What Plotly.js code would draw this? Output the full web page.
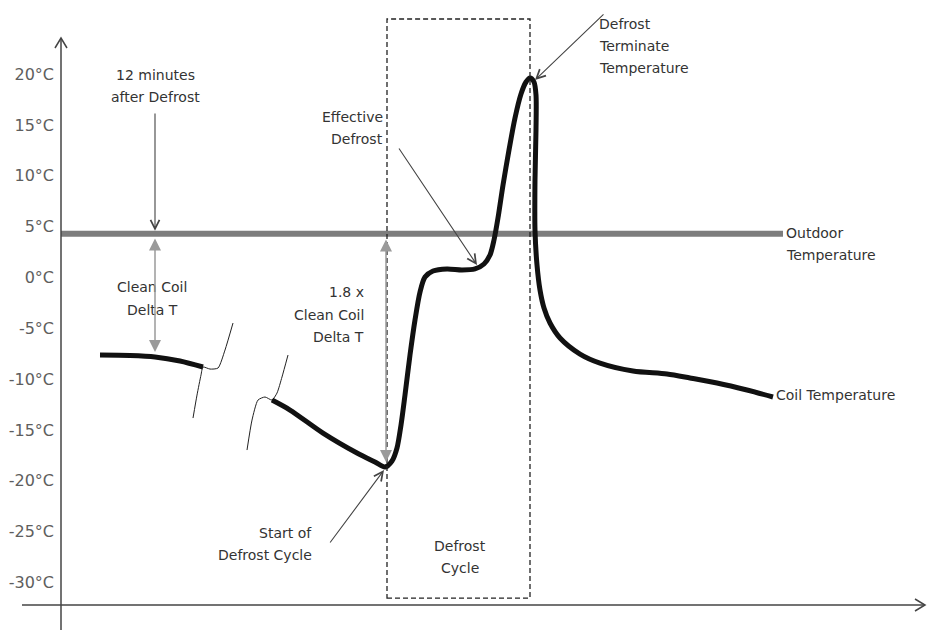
<!DOCTYPE html>
<html>
<head>
<meta charset="utf-8">
<script src="https://cdn.plot.ly/plotly-3.0.1.min.js"></script>
<style>html,body{margin:0;padding:0;background:#fff;}#chart{width:933px;height:630px;}</style>
</head>
<body>
<div id="chart"></div>
<script>
// ---- data (time in arbitrary units, temperature in °C) ----
const coilTimeA = [3.9, 6.9, 9.4, 11.9, 14.2];
const coilTempA = [-7.63, -7.68, -7.82, -8.22, -8.81];

const coilTimeB = [21.1, 22.9, 26.2, 29.6, 31.4, 32.4, 33.1, 33.6, 34.0, 34.4, 34.9, 35.4, 35.9, 36.4, 37.2, 38.6, 40.1, 41.4, 42.3, 42.9, 43.3, 43.7, 44.2, 44.8, 45.4, 46.0, 46.5, 46.9, 47.3, 47.5, 47.5, 47.4, 47.4, 47.6, 47.9, 48.3, 48.9, 49.9, 51.9, 53.9, 57.2, 60.6, 62.9, 65.6, 68.6, 71.2];
const coilTempB = [-12.06, -13.04, -15.31, -17.27, -18.16, -18.65, -18.06, -16.78, -14.52, -11.56, -7.63, -4.18, -1.43, 0.05, 0.64, 0.84, 0.74, 0.84, 1.33, 2.21, 3.69, 5.86, 9.10, 12.55, 15.70, 18.06, 19.24, 19.64, 19.24, 17.96, 14.52, 9.60, 4.68, 1.23, -1.23, -3.0, -4.48, -5.95, -7.53, -8.42, -9.20, -9.50, -9.89, -10.38, -11.07, -11.76];

const breakTimeA = [13.2, 13.6, 14.0, 14.2, 14.9, 15.7, 16.4, 17.2];
const breakTempA = [-13.83, -11.57, -9.60, -8.81, -9.01, -8.91, -7.14, -4.48];
const breakTimeB = [18.6, 19.1, 19.7, 20.4, 21.1, 21.6, 22.1, 22.7];
const breakTempB = [-16.98, -14.03, -12.06, -11.76, -12.06, -11.37, -9.79, -7.63];

const outdoorTime = [0, 72.2];
const outdoorTemp = [4.3, 4.3];

const defrostStart = 32.6, defrostEnd = 46.9;
const tickVals = [-30, -25, -20, -15, -10, -5, 0, 5, 10, 15, 20];
const tickText = tickVals.map(v => v + '°C');

// ---- layout helpers ----
const FONT = 'DejaVu Sans, Verdana, sans-serif';
const txtColor = '#333';
function label(text, x, y, anchor) {
  return {text: text, x: x, y: y, xref: 'x', yref: 'y', showarrow: false,
          xanchor: anchor, yanchor: 'middle', font: {family: FONT, size: 14, color: txtColor}};
}
function blackArrow(x, y, ax, ay) {
  return {text: '', x: x, y: y, ax: ax, ay: ay, xref: 'x', yref: 'y', axref: 'x', ayref: 'y',
          showarrow: true, arrowhead: 5, arrowsize: 1.6, arrowwidth: 1.1, arrowcolor: '#444', standoff: 0};
}
function grayDouble(x, yTop, yBot) {
  return {text: '', x: x, y: yBot, ax: x, ay: yTop, xref: 'x', yref: 'y', axref: 'x', ayref: 'y',
          showarrow: true, arrowside: 'end+start', arrowhead: 2, startarrowhead: 2,
          arrowsize: 1.6, startarrowsize: 1.6, arrowwidth: 1.5, arrowcolor: '#9a9a9a', standoff: 0, startstandoff: 0};
}

const thick = {color: '#111', width: 5, shape: 'spline', smoothing: 0.8};
const thin = {color: '#222', width: 1, shape: 'spline', smoothing: 0.6};

const traces = [
  {x: outdoorTime, y: outdoorTemp, mode: 'lines', line: {color: '#7d7d7d', width: 6}, hoverinfo: 'skip'},
  {x: breakTimeA, y: breakTempA, mode: 'lines', line: thin, hoverinfo: 'skip'},
  {x: breakTimeB, y: breakTempB, mode: 'lines', line: thin, hoverinfo: 'skip'},
  {x: coilTimeA, y: coilTempA, mode: 'lines', line: thick, hoverinfo: 'skip'},
  {x: coilTimeB, y: coilTempB, mode: 'lines', line: thick, hoverinfo: 'skip'}
];

const xAxisY = -32.23, yTop = 23.57, yBottom = -34.69;

const shapes = [
  {type: 'line', xref: 'x', yref: 'y', x0: 0, x1: 0, y0: yBottom, y1: yTop, line: {color: '#444', width: 1.5}},
  {type: 'line', xref: 'x', yref: 'y', x0: -3.9, x1: 86.4, y0: xAxisY, y1: xAxisY, line: {color: '#444', width: 1.5}},
  {type: 'path', xref: 'x', yref: 'y', xsizemode: 'pixel', ysizemode: 'pixel', xanchor: 0, yanchor: yTop,
   path: 'M -6,-10 L 0,0 L 6,-10', line: {color: '#444', width: 1.5}},
  {type: 'path', xref: 'x', yref: 'y', xsizemode: 'pixel', ysizemode: 'pixel', xanchor: 86.4, yanchor: xAxisY,
   path: 'M -10,6 L 0,0 L -10,-6', line: {color: '#444', width: 1.5}},
  {type: 'rect', xref: 'x', yref: 'y', x0: defrostStart, x1: defrostEnd, y0: -31.55, y1: 25.44,
   line: {color: '#222', width: 1.3, dash: '5px,3px'}}
];

const annotations = [
  label('12 minutes', 9.4, 19.93, 'center'),
  label('after Defrost', 9.4, 17.77, 'center'),
  label('Clean Coil', 9.1, -0.94, 'center'),
  label('Delta T', 9.1, -3.20, 'center'),
  label('1.8 x', 30.5, -1.43, 'right'),
  label('Clean Coil', 30.5, -3.69, 'right'),
  label('Delta T', 30.5, -5.86, 'right'),
  label('Effective', 32.4, 15.80, 'right'),
  label('Defrost', 32.4, 13.63, 'right'),
  label('Defrost', 53.6, 24.95, 'left'),
  label('Terminate', 53.6, 22.79, 'left'),
  label('Temperature', 53.6, 20.62, 'left'),
  label('Outdoor', 72.3, 4.38, 'left'),
  label('Temperature', 72.3, 2.21, 'left'),
  label('Start of', 25.3, -25.15, 'right'),
  label('Defrost Cycle', 25.3, -27.31, 'right'),
  label('Defrost', 39.9, -26.43, 'center'),
  label('Cycle', 39.9, -28.59, 'center'),
  label('Coil Temperature', 71.3, -11.56, 'left'),
  blackArrow(9.4, 4.6, 9.4, 16.29),
  blackArrow(41.6, 1.23, 33.7, 12.84),
  blackArrow(47.4, 19.44, 54.4, 26.03),
  blackArrow(32.3, -18.95, 26.8, -26.23),
  grayDouble(9.4, 3.99, -7.33),
  grayDouble(32.5, 3.89, -18.16)
];

const layout = {
  width: 933, height: 630,
  margin: {l: 0, r: 0, t: 0, b: 0},
  paper_bgcolor: '#fff', plot_bgcolor: '#fff',
  showlegend: false,
  xaxis: {range: [-6.1, 87.2], visible: false, domain: [0, 1], fixedrange: true},
  yaxis: {range: [yBottom, 27.31], anchor: 'free', position: 61 / 933, side: 'left',
          showgrid: false, zeroline: false, showline: false, ticks: '',
          tickmode: 'array', tickvals: tickVals, ticktext: tickText, ticklabelstandoff: 7,
          tickfont: {family: FONT, size: 16, color: '#5e5e5e'}, fixedrange: true},
  shapes: shapes,
  annotations: annotations
};

Plotly.newPlot('chart', traces, layout, {displayModeBar: false, staticPlot: true});
</script>
</body>
</html>
